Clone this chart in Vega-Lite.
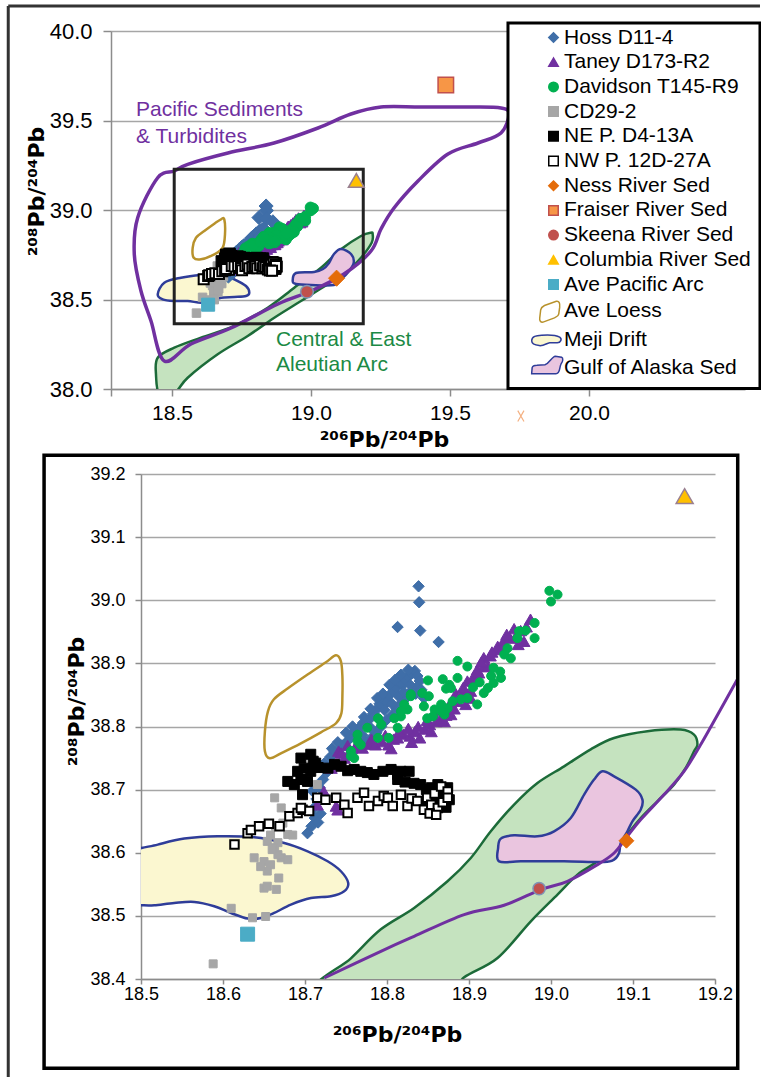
{
"$schema":"https://vega.github.io/schema/vega-lite/v6.json",
"padding":{"left":6,"top":4,"right":0,"bottom":0},
"background":"#ffffff",
"bounds":"flush",
"center":true,
"spacing":85,
"config":{"view":{"stroke":null},"font":"Liberation Sans",
"axis":{"labelFont":"Liberation Sans","labelColor":"#000","titleFont":"DejaVu Sans","titleColor":"#000","titleFontWeight":"bold","domainColor":"#8c8c8c","domainWidth":1.5,"tickColor":"#8c8c8c","tickWidth":1.5,"gridColor":"#a6a6a6","gridWidth":1.5,"labelFlush":false,"labelOverlap":false,"labelBound":false}},
"resolve":{"legend":{"shape":"independent","fill":"independent","stroke":"independent"}},
"datasets":{
"pts":[
{"s":"Hoss D11-4","x":18.8385,"y":39.0221},{"s":"Hoss D11-4","x":18.8392,"y":38.9968},{"s":"Hoss D11-4","x":18.8129,"y":38.9576},{"s":"Hoss D11-4","x":18.8405,"y":38.9519},{"s":"Hoss D11-4","x":18.8629,"y":38.9339},
{"s":"Hoss D11-4","x":18.703,"y":38.631},{"s":"Hoss D11-4","x":18.708,"y":38.642},{"s":"Hoss D11-4","x":18.712,"y":38.655},{"s":"Hoss D11-4","x":18.716,"y":38.648},{"s":"Hoss D11-4","x":18.719,"y":38.662},{"s":"Hoss D11-4","x":18.711,"y":38.671},{"s":"Hoss D11-4","x":18.714,"y":38.685},{"s":"Hoss D11-4","x":18.709,"y":38.698},{"s":"Hoss D11-4","x":18.718,"y":38.703},{"s":"Hoss D11-4","x":18.722,"y":38.716},{"s":"Hoss D11-4","x":18.727,"y":38.728},{"s":"Hoss D11-4","x":18.724,"y":38.742},{"s":"Hoss D11-4","x":18.731,"y":38.752},{"s":"Hoss D11-4","x":18.736,"y":38.760},{"s":"Hoss D11-4","x":18.742,"y":38.758},{"s":"Hoss D11-4","x":18.745,"y":38.770},{"s":"Hoss D11-4","x":18.751,"y":38.776},{"s":"Hoss D11-4","x":18.756,"y":38.783},{"s":"Hoss D11-4","x":18.760,"y":38.792},{"s":"Hoss D11-4","x":18.766,"y":38.798},{"s":"Hoss D11-4","x":18.771,"y":38.806},{"s":"Hoss D11-4","x":18.775,"y":38.801},{"s":"Hoss D11-4","x":18.779,"y":38.812},{"s":"Hoss D11-4","x":18.783,"y":38.820},{"s":"Hoss D11-4","x":18.788,"y":38.828},{"s":"Hoss D11-4","x":18.791,"y":38.836},{"s":"Hoss D11-4","x":18.796,"y":38.842},{"s":"Hoss D11-4","x":18.800,"y":38.838},{"s":"Hoss D11-4","x":18.803,"y":38.850},{"s":"Hoss D11-4","x":18.808,"y":38.856},{"s":"Hoss D11-4","x":18.811,"y":38.862},{"s":"Hoss D11-4","x":18.815,"y":38.869},{"s":"Hoss D11-4","x":18.819,"y":38.866},{"s":"Hoss D11-4","x":18.822,"y":38.874},{"s":"Hoss D11-4","x":18.826,"y":38.879},{"s":"Hoss D11-4","x":18.830,"y":38.884},{"s":"Hoss D11-4","x":18.834,"y":38.888},{"s":"Hoss D11-4","x":18.837,"y":38.880},{"s":"Hoss D11-4","x":18.840,"y":38.872},{"s":"Hoss D11-4","x":18.836,"y":38.862},{"s":"Hoss D11-4","x":18.829,"y":38.855},{"s":"Hoss D11-4","x":18.824,"y":38.846},{"s":"Hoss D11-4","x":18.818,"y":38.838},{"s":"Hoss D11-4","x":18.812,"y":38.828},{"s":"Hoss D11-4","x":18.806,"y":38.818},{"s":"Hoss D11-4","x":18.799,"y":38.810},{"s":"Hoss D11-4","x":18.793,"y":38.800},{"s":"Hoss D11-4","x":18.787,"y":38.790},{"s":"Hoss D11-4","x":18.781,"y":38.782},{"s":"Hoss D11-4","x":18.774,"y":38.775},{"s":"Hoss D11-4","x":18.768,"y":38.770},{"s":"Hoss D11-4","x":18.762,"y":38.764},{"s":"Hoss D11-4","x":18.835,"y":38.852},{"s":"Hoss D11-4","x":18.842,"y":38.858},{"s":"Hoss D11-4","x":18.845,"y":38.845},
{"s":"Hoss D11-4","x":18.772,"y":38.815},{"s":"Hoss D11-4","x":18.780,"y":38.828},{"s":"Hoss D11-4","x":18.788,"y":38.845},{"s":"Hoss D11-4","x":18.795,"y":38.852},{"s":"Hoss D11-4","x":18.803,"y":38.866},{"s":"Hoss D11-4","x":18.810,"y":38.874},{"s":"Hoss D11-4","x":18.817,"y":38.882},{"s":"Hoss D11-4","x":18.826,"y":38.890},{"s":"Hoss D11-4","x":18.758,"y":38.800},{"s":"Hoss D11-4","x":18.750,"y":38.790},{"s":"Hoss D11-4","x":18.740,"y":38.775},{"s":"Hoss D11-4","x":18.733,"y":38.765},{"s":"Hoss D11-4","x":18.790,"y":38.812},{"s":"Hoss D11-4","x":18.797,"y":38.826},{"s":"Hoss D11-4","x":18.806,"y":38.836},{"s":"Hoss D11-4","x":18.814,"y":38.848},{"s":"Hoss D11-4","x":18.820,"y":38.855},{"s":"Hoss D11-4","x":18.828,"y":38.866},{"s":"Hoss D11-4","x":18.780,"y":38.798},{"s":"Hoss D11-4","x":18.770,"y":38.786},
{"s":"Taney D173-R2","x":18.723,"y":38.697},{"s":"Taney D173-R2","x":18.715,"y":38.676},{"s":"Taney D173-R2","x":18.738,"y":38.674},{"s":"Taney D173-R2","x":18.740,"y":38.668},{"s":"Taney D173-R2","x":18.732,"y":38.734},{"s":"Taney D173-R2","x":18.741,"y":38.761},{"s":"Taney D173-R2","x":18.748,"y":38.750},{"s":"Taney D173-R2","x":18.744,"y":38.758},{"s":"Taney D173-R2","x":18.755,"y":38.762},{"s":"Taney D173-R2","x":18.762,"y":38.768},{"s":"Taney D173-R2","x":18.770,"y":38.766},{"s":"Taney D173-R2","x":18.778,"y":38.772},{"s":"Taney D173-R2","x":18.786,"y":38.771},{"s":"Taney D173-R2","x":18.794,"y":38.776},{"s":"Taney D173-R2","x":18.802,"y":38.771},{"s":"Taney D173-R2","x":18.808,"y":38.780},{"s":"Taney D173-R2","x":18.813,"y":38.782},{"s":"Taney D173-R2","x":18.820,"y":38.788},{"s":"Taney D173-R2","x":18.828,"y":38.785},{"s":"Taney D173-R2","x":18.834,"y":38.792},{"s":"Taney D173-R2","x":18.840,"y":38.782},{"s":"Taney D173-R2","x":18.846,"y":38.796},{"s":"Taney D173-R2","x":18.852,"y":38.803},{"s":"Taney D173-R2","x":18.854,"y":38.792},{"s":"Taney D173-R2","x":18.860,"y":38.808},{"s":"Taney D173-R2","x":18.866,"y":38.812},{"s":"Taney D173-R2","x":18.872,"y":38.818},{"s":"Taney D173-R2","x":18.878,"y":38.819},{"s":"Taney D173-R2","x":18.882,"y":38.828},{"s":"Taney D173-R2","x":18.886,"y":38.840},{"s":"Taney D173-R2","x":18.890,"y":38.848},{"s":"Taney D173-R2","x":18.895,"y":38.852},{"s":"Taney D173-R2","x":18.902,"y":38.845},{"s":"Taney D173-R2","x":18.902,"y":38.856},{"s":"Taney D173-R2","x":18.906,"y":38.872},{"s":"Taney D173-R2","x":18.906,"y":38.880},{"s":"Taney D173-R2","x":18.912,"y":38.885},{"s":"Taney D173-R2","x":18.918,"y":38.895},{"s":"Taney D173-R2","x":18.923,"y":38.895},{"s":"Taney D173-R2","x":18.918,"y":38.909},{"s":"Taney D173-R2","x":18.926,"y":38.912},{"s":"Taney D173-R2","x":18.935,"y":38.924},{"s":"Taney D173-R2","x":18.935,"y":38.927},{"s":"Taney D173-R2","x":18.942,"y":38.935},{"s":"Taney D173-R2","x":18.950,"y":38.940},{"s":"Taney D173-R2","x":18.958,"y":38.945},{"s":"Taney D173-R2","x":18.967,"y":38.935},{"s":"Taney D173-R2","x":18.963,"y":38.952},{"s":"Taney D173-R2","x":18.970,"y":38.958},{"s":"Taney D173-R2","x":18.975,"y":38.970},
{"s":"Taney D173-R2","x":18.752,"y":38.770},{"s":"Taney D173-R2","x":18.766,"y":38.778},{"s":"Taney D173-R2","x":18.781,"y":38.780},{"s":"Taney D173-R2","x":18.798,"y":38.786},{"s":"Taney D173-R2","x":18.815,"y":38.792},{"s":"Taney D173-R2","x":18.826,"y":38.797},{"s":"Taney D173-R2","x":18.838,"y":38.800},{"s":"Taney D173-R2","x":18.849,"y":38.810},{"s":"Taney D173-R2","x":18.858,"y":38.818},{"s":"Taney D173-R2","x":18.868,"y":38.826},{"s":"Taney D173-R2","x":18.876,"y":38.834},{"s":"Taney D173-R2","x":18.884,"y":38.852},{"s":"Taney D173-R2","x":18.893,"y":38.862},{"s":"Taney D173-R2","x":18.898,"y":38.872},{"s":"Taney D173-R2","x":18.910,"y":38.890},{"s":"Taney D173-R2","x":18.915,"y":38.902},{"s":"Taney D173-R2","x":18.928,"y":38.918},{"s":"Taney D173-R2","x":18.940,"y":38.922},{"s":"Taney D173-R2","x":18.946,"y":38.946},{"s":"Taney D173-R2","x":18.955,"y":38.955},{"s":"Taney D173-R2","x":18.960,"y":38.930},{"s":"Taney D173-R2","x":18.896,"y":38.835},{"s":"Taney D173-R2","x":18.870,"y":38.808},{"s":"Taney D173-R2","x":18.830,"y":38.775},{"s":"Taney D173-R2","x":18.805,"y":38.765},
{"s":"Davidson T145-R9","x":18.998,"y":39.015},{"s":"Davidson T145-R9","x":19.008,"y":39.009},{"s":"Davidson T145-R9","x":19.000,"y":38.998},{"s":"Davidson T145-R9","x":18.980,"y":38.964},{"s":"Davidson T145-R9","x":18.961,"y":38.951},{"s":"Davidson T145-R9","x":18.969,"y":38.952},{"s":"Davidson T145-R9","x":18.959,"y":38.940},{"s":"Davidson T145-R9","x":18.980,"y":38.940},{"s":"Davidson T145-R9","x":18.947,"y":38.924},{"s":"Davidson T145-R9","x":18.943,"y":38.914},{"s":"Davidson T145-R9","x":18.951,"y":38.908},{"s":"Davidson T145-R9","x":18.930,"y":38.893},{"s":"Davidson T145-R9","x":18.938,"y":38.887},{"s":"Davidson T145-R9","x":18.927,"y":38.880},{"s":"Davidson T145-R9","x":18.939,"y":38.877},{"s":"Davidson T145-R9","x":18.930,"y":38.869},{"s":"Davidson T145-R9","x":18.923,"y":38.861},{"s":"Davidson T145-R9","x":18.918,"y":38.853},{"s":"Davidson T145-R9","x":18.910,"y":38.835},{"s":"Davidson T145-R9","x":18.898,"y":38.845},{"s":"Davidson T145-R9","x":18.890,"y":38.843},{"s":"Davidson T145-R9","x":18.880,"y":38.840},{"s":"Davidson T145-R9","x":18.886,"y":38.904},{"s":"Davidson T145-R9","x":18.898,"y":38.895},{"s":"Davidson T145-R9","x":18.886,"y":38.877},{"s":"Davidson T145-R9","x":18.868,"y":38.875},{"s":"Davidson T145-R9","x":18.850,"y":38.873},{"s":"Davidson T145-R9","x":18.876,"y":38.866},{"s":"Davidson T145-R9","x":18.872,"y":38.860},{"s":"Davidson T145-R9","x":18.878,"y":38.861},{"s":"Davidson T145-R9","x":18.851,"y":38.848},{"s":"Davidson T145-R9","x":18.843,"y":38.853},{"s":"Davidson T145-R9","x":18.829,"y":38.848},{"s":"Davidson T145-R9","x":18.845,"y":38.832},{"s":"Davidson T145-R9","x":18.866,"y":38.835},{"s":"Davidson T145-R9","x":18.858,"y":38.827},{"s":"Davidson T145-R9","x":18.874,"y":38.829},{"s":"Davidson T145-R9","x":18.870,"y":38.819},{"s":"Davidson T145-R9","x":18.856,"y":38.816},{"s":"Davidson T145-R9","x":18.849,"y":38.813},{"s":"Davidson T145-R9","x":18.866,"y":38.824},{"s":"Davidson T145-R9","x":18.825,"y":38.827},{"s":"Davidson T145-R9","x":18.821,"y":38.835},{"s":"Davidson T145-R9","x":18.817,"y":38.816},{"s":"Davidson T145-R9","x":18.809,"y":38.813},{"s":"Davidson T145-R9","x":18.789,"y":38.813},{"s":"Davidson T145-R9","x":18.776,"y":38.798},{"s":"Davidson T145-R9","x":18.764,"y":38.787},{"s":"Davidson T145-R9","x":18.789,"y":38.782},{"s":"Davidson T145-R9","x":18.802,"y":38.782},{"s":"Davidson T145-R9","x":18.813,"y":38.798},{"s":"Davidson T145-R9","x":18.756,"y":38.761},{"s":"Davidson T145-R9","x":18.768,"y":38.771},{"s":"Davidson T145-R9","x":18.760,"y":38.750},{"s":"Davidson T145-R9","x":18.756,"y":38.753},{"s":"Davidson T145-R9","x":18.764,"y":38.777},{"s":"Davidson T145-R9","x":18.793,"y":38.803},{"s":"Davidson T145-R9","x":18.817,"y":38.824},{"s":"Davidson T145-R9","x":18.829,"y":38.851},{"s":"Davidson T145-R9","x":18.905,"y":38.862},{"s":"Davidson T145-R9","x":18.913,"y":38.870},
{"s":"CD29-2","x":18.663,"y":38.687},{"s":"CD29-2","x":18.671,"y":38.671},{"s":"CD29-2","x":18.664,"y":38.642},{"s":"CD29-2","x":18.673,"y":38.647},{"s":"CD29-2","x":18.679,"y":38.629},{"s":"CD29-2","x":18.685,"y":38.628},{"s":"CD29-2","x":18.654,"y":38.618},{"s":"CD29-2","x":18.667,"y":38.616},{"s":"CD29-2","x":18.663,"y":38.608},{"s":"CD29-2","x":18.638,"y":38.592},{"s":"CD29-2","x":18.650,"y":38.586},{"s":"CD29-2","x":18.658,"y":38.581},{"s":"CD29-2","x":18.671,"y":38.592},{"s":"CD29-2","x":18.679,"y":38.589},{"s":"CD29-2","x":18.654,"y":38.571},{"s":"CD29-2","x":18.646,"y":38.578},{"s":"CD29-2","x":18.667,"y":38.597},{"s":"CD29-2","x":18.650,"y":38.544},{"s":"CD29-2","x":18.654,"y":38.547},{"s":"CD29-2","x":18.665,"y":38.542},{"s":"CD29-2","x":18.610,"y":38.512},{"s":"CD29-2","x":18.636,"y":38.497},{"s":"CD29-2","x":18.652,"y":38.499},{"s":"CD29-2","x":18.588,"y":38.424},{"s":"CD29-2","x":18.715,"y":38.708},{"s":"CD29-2","x":18.660,"y":38.605},{"s":"CD29-2","x":18.668,"y":38.560},{"s":"CD29-2","x":18.658,"y":38.628},
{"s":"NE P. D4-13A","x":18.707,"y":38.756},{"s":"NE P. D4-13A","x":18.695,"y":38.750},{"s":"NE P. D4-13A","x":18.713,"y":38.742},{"s":"NE P. D4-13A","x":18.699,"y":38.734},{"s":"NE P. D4-13A","x":18.691,"y":38.729},{"s":"NE P. D4-13A","x":18.695,"y":38.716},{"s":"NE P. D4-13A","x":18.707,"y":38.729},{"s":"NE P. D4-13A","x":18.703,"y":38.713},{"s":"NE P. D4-13A","x":18.679,"y":38.713},{"s":"NE P. D4-13A","x":18.687,"y":38.708},{"s":"NE P. D4-13A","x":18.697,"y":38.692},{"s":"NE P. D4-13A","x":18.710,"y":38.745},{"s":"NE P. D4-13A","x":18.716,"y":38.735},{"s":"NE P. D4-13A","x":18.728,"y":38.734},{"s":"NE P. D4-13A","x":18.736,"y":38.740},{"s":"NE P. D4-13A","x":18.744,"y":38.737},{"s":"NE P. D4-13A","x":18.752,"y":38.730},{"s":"NE P. D4-13A","x":18.760,"y":38.732},{"s":"NE P. D4-13A","x":18.768,"y":38.729},{"s":"NE P. D4-13A","x":18.776,"y":38.727},{"s":"NE P. D4-13A","x":18.784,"y":38.724},{"s":"NE P. D4-13A","x":18.795,"y":38.729},{"s":"NE P. D4-13A","x":18.805,"y":38.732},{"s":"NE P. D4-13A","x":18.813,"y":38.724},{"s":"NE P. D4-13A","x":18.817,"y":38.729},{"s":"NE P. D4-13A","x":18.827,"y":38.729},{"s":"NE P. D4-13A","x":18.813,"y":38.716},{"s":"NE P. D4-13A","x":18.822,"y":38.712},{"s":"NE P. D4-13A","x":18.833,"y":38.710},{"s":"NE P. D4-13A","x":18.841,"y":38.708},{"s":"NE P. D4-13A","x":18.848,"y":38.700},{"s":"NE P. D4-13A","x":18.854,"y":38.703},{"s":"NE P. D4-13A","x":18.862,"y":38.708},{"s":"NE P. D4-13A","x":18.868,"y":38.698},{"s":"NE P. D4-13A","x":18.874,"y":38.703},{"s":"NE P. D4-13A","x":18.870,"y":38.690},{"s":"NE P. D4-13A","x":18.858,"y":38.690},{"s":"NE P. D4-13A","x":18.864,"y":38.682},{"s":"NE P. D4-13A","x":18.852,"y":38.686},{"s":"NE P. D4-13A","x":18.876,"y":38.684},{"s":"NE P. D4-13A","x":18.860,"y":38.675},{"s":"NE P. D4-13A","x":18.846,"y":38.678},{"s":"NE P. D4-13A","x":18.872,"y":38.672},{"s":"NE P. D4-13A","x":18.856,"y":38.668},
{"s":"NW P. 12D-27A","x":18.614,"y":38.613},{"s":"NW P. 12D-27A","x":18.630,"y":38.631},{"s":"NW P. 12D-27A","x":18.634,"y":38.636},{"s":"NW P. 12D-27A","x":18.644,"y":38.642},{"s":"NW P. 12D-27A","x":18.656,"y":38.646},{"s":"NW P. 12D-27A","x":18.669,"y":38.642},{"s":"NW P. 12D-27A","x":18.681,"y":38.658},{"s":"NW P. 12D-27A","x":18.691,"y":38.663},{"s":"NW P. 12D-27A","x":18.697,"y":38.668},{"s":"NW P. 12D-27A","x":18.705,"y":38.666},{"s":"NW P. 12D-27A","x":18.695,"y":38.671},{"s":"NW P. 12D-27A","x":18.715,"y":38.687},{"s":"NW P. 12D-27A","x":18.725,"y":38.684},{"s":"NW P. 12D-27A","x":18.738,"y":38.687},{"s":"NW P. 12D-27A","x":18.748,"y":38.676},{"s":"NW P. 12D-27A","x":18.752,"y":38.663},{"s":"NW P. 12D-27A","x":18.764,"y":38.687},{"s":"NW P. 12D-27A","x":18.772,"y":38.695},{"s":"NW P. 12D-27A","x":18.778,"y":38.674},{"s":"NW P. 12D-27A","x":18.789,"y":38.682},{"s":"NW P. 12D-27A","x":18.796,"y":38.690},{"s":"NW P. 12D-27A","x":18.801,"y":38.687},{"s":"NW P. 12D-27A","x":18.807,"y":38.674},{"s":"NW P. 12D-27A","x":18.817,"y":38.692},{"s":"NW P. 12D-27A","x":18.825,"y":38.674},{"s":"NW P. 12D-27A","x":18.830,"y":38.686},{"s":"NW P. 12D-27A","x":18.837,"y":38.682},{"s":"NW P. 12D-27A","x":18.845,"y":38.668},{"s":"NW P. 12D-27A","x":18.849,"y":38.687},{"s":"NW P. 12D-27A","x":18.854,"y":38.676},{"s":"NW P. 12D-27A","x":18.858,"y":38.694},{"s":"NW P. 12D-27A","x":18.862,"y":38.671},{"s":"NW P. 12D-27A","x":18.866,"y":38.705},{"s":"NW P. 12D-27A","x":18.868,"y":38.680},{"s":"NW P. 12D-27A","x":18.874,"y":38.697},{"s":"NW P. 12D-27A","x":18.874,"y":38.687},{"s":"NW P. 12D-27A","x":18.852,"y":38.662},{"s":"NW P. 12D-27A","x":18.860,"y":38.660},
{"s":"Ness River Sed","x":19.092,"y":38.619},
{"s":"Fraiser River Sed","x":19.485,"y":39.698},
{"s":"Skeena River Sed","x":18.9855,"y":38.5432},
{"s":"Columbia River Sed","x":19.163,"y":39.165},
{"s":"Ave Pacific Arc","x":18.630,"y":38.471}
],
"polyT":[
{"n":"aleut","i":0,"x":18.4486,"y":38.1749},{"n":"aleut","i":1,"x":18.5083,"y":38.2307},{"n":"aleut","i":2,"x":18.6043,"y":38.2866},{"n":"aleut","i":3,"x":18.7241,"y":38.3520},{"n":"aleut","i":4,"x":18.8442,"y":38.4542},{"n":"aleut","i":5,"x":18.9399,"y":38.5659},{"n":"aleut","i":6,"x":19.0360,"y":38.6777},{"n":"aleut","i":7,"x":19.1079,"y":38.7804},{"n":"aleut","i":8,"x":19.1799,"y":38.8547},{"n":"aleut","i":9,"x":19.2158,"y":38.8732},{"n":"aleut","i":10,"x":19.2219,"y":38.8642},{"n":"aleut","i":11,"x":19.2183,"y":38.8173},{"n":"aleut","i":12,"x":19.1799,"y":38.7335},{"n":"aleut","i":13,"x":19.1320,"y":38.6592},{"n":"aleut","i":14,"x":19.0601,"y":38.5849},{"n":"aleut","i":15,"x":18.9640,"y":38.4916},{"n":"aleut","i":16,"x":18.8680,"y":38.3983},{"n":"aleut","i":17,"x":18.7723,"y":38.2961},{"n":"aleut","i":18,"x":18.6644,"y":38.1939},{"n":"aleut","i":19,"x":18.5565,"y":38.0631},{"n":"aleut","i":20,"x":18.51,"y":37.98},{"n":"aleut","i":21,"x":18.455,"y":37.97},{"n":"aleut","i":22,"x":18.4424,"y":38.0821},
{"n":"meji","i":0,"x":18.4486,"y":38.5291},{"n":"meji","i":1,"x":18.4723,"y":38.5939},{"n":"meji","i":2,"x":18.5324,"y":38.6218},{"n":"meji","i":3,"x":18.6043,"y":38.6369},{"n":"meji","i":4,"x":18.6763,"y":38.6408},{"n":"meji","i":5,"x":18.7241,"y":38.6128},{"n":"meji","i":6,"x":18.7662,"y":38.5754},{"n":"meji","i":7,"x":18.7781,"y":38.5380},{"n":"meji","i":8,"x":18.7662,"y":38.5196},{"n":"meji","i":9,"x":18.7241,"y":38.5140},{"n":"meji","i":10,"x":18.6763,"y":38.5101},{"n":"meji","i":11,"x":18.6403,"y":38.4916},{"n":"meji","i":12,"x":18.6043,"y":38.4821},{"n":"meji","i":13,"x":18.5565,"y":38.4916},{"n":"meji","i":14,"x":18.5083,"y":38.4916},{"n":"meji","i":15,"x":18.4665,"y":38.5011},
{"n":"loess","i":0,"x":18.6881,"y":38.9480},{"n":"loess","i":1,"x":18.6906,"y":38.8642},{"n":"loess","i":2,"x":18.6824,"y":38.7894},{"n":"loess","i":3,"x":18.6522,"y":38.7525},{"n":"loess","i":4,"x":18.6043,"y":38.7246},{"n":"loess","i":5,"x":18.5781,"y":38.7335},{"n":"loess","i":6,"x":18.5745,"y":38.7894},{"n":"loess","i":7,"x":18.5863,"y":38.8453},{"n":"loess","i":8,"x":18.6162,"y":38.8827},{"n":"loess","i":9,"x":18.6522,"y":38.9235},{"n":"loess","i":10,"x":18.6763,"y":38.9480},
{"n":"gulf","i":0,"x":18.9342,"y":38.6034},{"n":"gulf","i":1,"x":18.9460,"y":38.6480},{"n":"gulf","i":2,"x":19.0108,"y":38.6536},{"n":"gulf","i":3,"x":19.0432,"y":38.6704},{"n":"gulf","i":4,"x":19.0647,"y":38.7039},{"n":"gulf","i":5,"x":19.0827,"y":38.7542},{"n":"gulf","i":6,"x":19.1079,"y":38.7821},{"n":"gulf","i":7,"x":19.1439,"y":38.7542},{"n":"gulf","i":8,"x":19.1536,"y":38.7039},{"n":"gulf","i":9,"x":19.1320,"y":38.6497},{"n":"gulf","i":10,"x":19.1079,"y":38.6128},{"n":"gulf","i":11,"x":19.0827,"y":38.5810},{"n":"gulf","i":12,"x":19.0000,"y":38.5810},{"n":"gulf","i":13,"x":18.9460,"y":38.5866},
{"n":"pac","i":0,"x":18.4723,"y":38.1564},{"n":"pac","i":1,"x":18.4245,"y":38.3799},{"n":"pac","i":2,"x":18.3885,"y":38.5475},{"n":"pac","i":3,"x":18.3644,"y":38.7525},{"n":"pac","i":4,"x":18.3766,"y":38.9570},{"n":"pac","i":5,"x":18.4486,"y":39.1804},{"n":"pac","i":6,"x":18.5083,"y":39.2179},{"n":"pac","i":7,"x":18.5565,"y":39.2553},{"n":"pac","i":8,"x":18.7014,"y":39.3184},{"n":"pac","i":9,"x":18.8669,"y":39.3743},{"n":"pac","i":10,"x":19.0252,"y":39.4581},{"n":"pac","i":11,"x":19.1439,"y":39.5363},{"n":"pac","i":12,"x":19.2518,"y":39.5754},{"n":"pac","i":13,"x":19.3957,"y":39.5754},{"n":"pac","i":14,"x":19.5755,"y":39.5754},{"n":"pac","i":15,"x":19.6835,"y":39.5698},{"n":"pac","i":16,"x":19.7122,"y":39.5363},{"n":"pac","i":17,"x":19.6835,"y":39.4302},{"n":"pac","i":18,"x":19.6007,"y":39.3743},{"n":"pac","i":19,"x":19.4928,"y":39.3128},{"n":"pac","i":20,"x":19.3849,"y":39.1620},{"n":"pac","i":21,"x":19.2986,"y":39.0112},{"n":"pac","i":22,"x":19.2518,"y":38.8939},{"n":"pac","i":23,"x":19.2158,"y":38.7709},{"n":"pac","i":24,"x":19.1187,"y":38.6425},{"n":"pac","i":25,"x":19.0000,"y":38.5475},{"n":"pac","i":26,"x":18.8813,"y":38.4749},{"n":"pac","i":27,"x":18.7122,"y":38.3408},{"n":"pac","i":28,"x":18.5683,"y":38.2514}
],
"polyB":[
{"n":"aleut","i":0,"x":18.715,"y":38.385},{"n":"aleut","i":1,"x":18.7560,"y":38.4328},{"n":"aleut","i":2,"x":18.7925,"y":38.4787},{"n":"aleut","i":3,"x":18.8331,"y":38.5125},{"n":"aleut","i":4,"x":18.8738,"y":38.5548},{"n":"aleut","i":5,"x":18.9022,"y":38.5917},{"n":"aleut","i":6,"x":18.9266,"y":38.6340},{"n":"aleut","i":7,"x":18.9550,"y":38.6763},{"n":"aleut","i":8,"x":18.9835,"y":38.7105},{"n":"aleut","i":9,"x":19.0160,"y":38.7369},{"n":"aleut","i":10,"x":19.0485,"y":38.7639},{"n":"aleut","i":11,"x":19.0769,"y":38.7818},{"n":"aleut","i":12,"x":19.1176,"y":38.7924},{"n":"aleut","i":13,"x":19.1582,"y":38.7951},{"n":"aleut","i":14,"x":19.1744,"y":38.7872},{"n":"aleut","i":15,"x":19.1786,"y":38.7713},{"n":"aleut","i":16,"x":19.1744,"y":38.7607},{"n":"aleut","i":17,"x":19.1643,"y":38.7343},{"n":"aleut","i":18,"x":19.1500,"y":38.7079},{"n":"aleut","i":19,"x":19.1298,"y":38.6815},{"n":"aleut","i":20,"x":19.1095,"y":38.6550},{"n":"aleut","i":21,"x":19.0851,"y":38.6181},{"n":"aleut","i":22,"x":19.0567,"y":38.5864},{"n":"aleut","i":23,"x":19.0323,"y":38.5654},{"n":"aleut","i":24,"x":19.0079,"y":38.5337},{"n":"aleut","i":25,"x":18.9754,"y":38.4914},{"n":"aleut","i":26,"x":18.9348,"y":38.4333},{"n":"aleut","i":27,"x":18.8941,"y":38.4027},{"n":"aleut","i":28,"x":18.875,"y":38.375},{"n":"aleut","i":29,"x":18.80,"y":38.36},
{"n":"meji","i":0,"x":18.48,"y":38.598},{"n":"meji","i":1,"x":18.5204,"y":38.6129},{"n":"meji","i":2,"x":18.5528,"y":38.6224},{"n":"meji","i":3,"x":18.5935,"y":38.6261},{"n":"meji","i":4,"x":18.6381,"y":38.6245},{"n":"meji","i":5,"x":18.6747,"y":38.6154},{"n":"meji","i":6,"x":18.7032,"y":38.6023},{"n":"meji","i":7,"x":18.7276,"y":38.5865},{"n":"meji","i":8,"x":18.7438,"y":38.5707},{"n":"meji","i":9,"x":18.7527,"y":38.5521},{"n":"meji","i":10,"x":18.7478,"y":38.5390},{"n":"meji","i":11,"x":18.7316,"y":38.5311},{"n":"meji","i":12,"x":18.7072,"y":38.5283},{"n":"meji","i":13,"x":18.6828,"y":38.5179},{"n":"meji","i":14,"x":18.6625,"y":38.5046},{"n":"meji","i":15,"x":18.6463,"y":38.4966},{"n":"meji","i":16,"x":18.6301,"y":38.4957},{"n":"meji","i":17,"x":18.6097,"y":38.5046},{"n":"meji","i":18,"x":18.5893,"y":38.5152},{"n":"meji","i":19,"x":18.5650,"y":38.5220},{"n":"meji","i":20,"x":18.5406,"y":38.5204},{"n":"meji","i":21,"x":18.5162,"y":38.5168},{"n":"meji","i":22,"x":18.5021,"y":38.5168},{"n":"meji","i":23,"x":18.47,"y":38.52},{"n":"meji","i":24,"x":18.46,"y":38.56},
{"n":"loess","i":0,"x":18.7377,"y":38.9128},{"n":"loess","i":1,"x":18.7438,"y":38.9033},{"n":"loess","i":2,"x":18.7456,"y":38.8795},{"n":"loess","i":3,"x":18.7456,"y":38.8478},{"n":"loess","i":4,"x":18.7444,"y":38.8209},{"n":"loess","i":5,"x":18.7377,"y":38.8050},{"n":"loess","i":6,"x":18.7194,"y":38.7908},{"n":"loess","i":7,"x":18.6950,"y":38.7733},{"n":"loess","i":8,"x":18.6731,"y":38.7591},{"n":"loess","i":9,"x":18.6572,"y":38.7496},{"n":"loess","i":10,"x":18.6511,"y":38.7607},{"n":"loess","i":11,"x":18.6511,"y":38.7924},{"n":"loess","i":12,"x":18.6548,"y":38.8241},{"n":"loess","i":13,"x":18.6621,"y":38.8431},{"n":"loess","i":14,"x":18.6792,"y":38.8605},{"n":"loess","i":15,"x":18.7036,"y":38.8827},{"n":"loess","i":16,"x":18.7255,"y":38.9017},
{"n":"gulf","i":0,"x":18.9388,"y":38.6224},{"n":"gulf","i":1,"x":18.9550,"y":38.6276},{"n":"gulf","i":2,"x":18.9835,"y":38.6261},{"n":"gulf","i":3,"x":19.0038,"y":38.6340},{"n":"gulf","i":4,"x":19.0241,"y":38.6550},{"n":"gulf","i":5,"x":19.0404,"y":38.6921},{"n":"gulf","i":6,"x":19.0525,"y":38.7159},{"n":"gulf","i":7,"x":19.0628,"y":38.7290},{"n":"gulf","i":8,"x":19.0769,"y":38.7211},{"n":"gulf","i":9,"x":19.1034,"y":38.7000},{"n":"gulf","i":10,"x":19.1115,"y":38.6842},{"n":"gulf","i":11,"x":19.1095,"y":38.6684},{"n":"gulf","i":12,"x":19.0993,"y":38.6498},{"n":"gulf","i":13,"x":19.0932,"y":38.6340},{"n":"gulf","i":14,"x":19.0851,"y":38.6154},{"n":"gulf","i":15,"x":19.0830,"y":38.5996},{"n":"gulf","i":16,"x":19.0769,"y":38.5891},{"n":"gulf","i":17,"x":19.0647,"y":38.5853},{"n":"gulf","i":18,"x":19.0160,"y":38.5864},{"n":"gulf","i":19,"x":18.9632,"y":38.5864},{"n":"gulf","i":20,"x":18.9367,"y":38.5864},{"n":"gulf","i":21,"x":18.9355,"y":38.6075},
{"n":"pac","i":0,"x":18.7235,"y":38.4016},{"n":"pac","i":1,"x":18.7925,"y":38.4439},{"n":"pac","i":2,"x":18.8331,"y":38.4676},{"n":"pac","i":3,"x":18.8941,"y":38.5020},{"n":"pac","i":4,"x":18.9428,"y":38.5168},{"n":"pac","i":5,"x":18.9876,"y":38.5416},{"n":"pac","i":6,"x":19.0201,"y":38.5548},{"n":"pac","i":7,"x":19.0567,"y":38.5812},{"n":"pac","i":8,"x":19.0770,"y":38.5996},{"n":"pac","i":9,"x":19.0932,"y":38.6261},{"n":"pac","i":10,"x":19.1095,"y":38.6525},{"n":"pac","i":11,"x":19.1379,"y":38.6921},{"n":"pac","i":12,"x":19.1622,"y":38.7290},{"n":"pac","i":13,"x":19.1826,"y":38.7713},{"n":"pac","i":14,"x":19.227,"y":38.874}
]
},
"vconcat":[
{
"width":634,"height":358,
"encoding":{
"x":{"field":"x","type":"quantitative","scale":{"domain":[18.2806,20.5612],"nice":false,"zero":false},
"axis":{"values":[18.2806,18.5,19,19.5,20],"labelExpr":"datum.value < 18.4 ? '' : format(datum.value, '.1f')","grid":false,"tickSize":7,"labelFontSize":21,"labelPadding":6,"title":"²⁰⁶Pb/²⁰⁴Pb","titleFontSize":22,"titleX":273,"titleY":57,"titleAlign":"center","titleBaseline":"alphabetic"}},
"y":{"field":"y","type":"quantitative","scale":{"domain":[38,40],"nice":false,"zero":false},
"axis":{"values":[38,38.5,39,39.5,40],"format":".1f","tickSize":8,"labelFontSize":22,"labelPadding":11,"title":"²⁰⁸Pb/²⁰⁴Pb","titleFontSize":22,"titleX":-68,"titleY":160,"titleAngle":-90,"titleAlign":"center","titleBaseline":"alphabetic"}}
},
"layer":[
{"data":{"name":"polyT"},"transform":[{"filter":"datum.n==='aleut'"}],"mark":{"type":"line","interpolate":"cardinal-closed","fill":"#C5E3BF","stroke":"#1C6B39","strokeWidth":2.5,"clip":true},"encoding":{"order":{"field":"i","type":"quantitative"}}},
{"data":{"name":"polyT"},"transform":[{"filter":"datum.n==='meji'"}],"mark":{"type":"line","interpolate":"cardinal-closed","fill":"#FBF7D0","stroke":"#2F3D99","strokeWidth":2.5,"clip":true},"encoding":{"order":{"field":"i","type":"quantitative"}}},
{"data":{"name":"polyT"},"transform":[{"filter":"datum.n==='loess'"}],"mark":{"type":"line","interpolate":"cardinal-closed","stroke":"#B8922C","strokeWidth":2.5,"clip":true},"encoding":{"order":{"field":"i","type":"quantitative"}}},
{"data":{"name":"polyT"},"transform":[{"filter":"datum.n==='gulf'"}],"mark":{"type":"line","interpolate":"cardinal-closed","fill":"#EAC5DF","stroke":"#2F3D99","strokeWidth":2.5,"clip":true},"encoding":{"order":{"field":"i","type":"quantitative"}}},
{"data":{"name":"polyT"},"transform":[{"filter":"datum.n==='pac'"}],"mark":{"type":"line","interpolate":"cardinal-closed","stroke":"#7030A0","strokeWidth":3.5,"clip":true},"encoding":{"order":{"field":"i","type":"quantitative"}}},
{"data":{"values":[{"x":18.508,"x2":19.188,"y":39.2274,"y2":38.3648}]},"mark":{"type":"rect","fill":"transparent","stroke":"#222222","strokeWidth":3},"encoding":{"x2":{"field":"x2"},"y2":{"field":"y2"}}},
{"data":{"name":"pts"},"transform":[{"filter":"datum.s==='Hoss D11-4'"}],"mark":{"type":"point","shape":"diamond","filled":true,"fill":"#3F6EA8","stroke":"#3F6EA8","strokeWidth":1,"size":200,"opacity":1}},
{"data":{"name":"pts"},"transform":[{"filter":"datum.s==='Taney D173-R2'"}],"mark":{"type":"point","shape":"triangle-up","filled":true,"fill":"#7030A0","stroke":"#7030A0","strokeWidth":1,"size":150,"opacity":1}},
{"data":{"name":"pts"},"transform":[{"filter":"datum.s==='Davidson T145-R9'"}],"mark":{"type":"point","shape":"circle","filled":true,"fill":"#00B050","stroke":"#00B050","strokeWidth":1,"size":110,"opacity":1}},
{"data":{"name":"pts"},"transform":[{"filter":"datum.s==='CD29-2'"}],"mark":{"type":"point","shape":"square","filled":true,"fill":"#A6A6A6","stroke":"#A6A6A6","strokeWidth":1,"size":72,"opacity":1}},
{"data":{"name":"pts"},"transform":[{"filter":"datum.s==='NE P. D4-13A'"}],"mark":{"type":"point","shape":"square","filled":true,"fill":"#000000","stroke":"#000000","strokeWidth":1,"size":130,"opacity":1}},
{"data":{"name":"pts"},"transform":[{"filter":"datum.s==='NW P. 12D-27A'"}],"mark":{"type":"point","shape":"square","filled":true,"fill":"#FFFFFF","stroke":"#000000","strokeWidth":2,"size":100,"opacity":1}},
{"data":{"name":"pts"},"transform":[{"filter":"datum.s==='Ness River Sed'"}],"mark":{"type":"point","shape":"diamond","filled":true,"fill":"#E46C0A","stroke":"#E46C0A","strokeWidth":1,"size":260,"opacity":1}},
{"data":{"name":"pts"},"transform":[{"filter":"datum.s==='Fraiser River Sed'"}],"mark":{"type":"point","shape":"square","filled":true,"fill":"#F79646","stroke":"#C0504D","strokeWidth":1.5,"size":240,"opacity":1}},
{"data":{"name":"pts"},"transform":[{"filter":"datum.s==='Skeena River Sed'"}],"mark":{"type":"point","shape":"circle","filled":true,"fill":"#C0504D","stroke":"#7F93B5","strokeWidth":1.5,"size":160,"opacity":1}},
{"data":{"name":"pts"},"transform":[{"filter":"datum.s==='Columbia River Sed'"}],"mark":{"type":"point","shape":"triangle-up","filled":true,"fill":"#FFC000","stroke":"#9A8090","strokeWidth":1.5,"size":250,"opacity":1}},
{"data":{"name":"pts"},"transform":[{"filter":"datum.s==='Ave Pacific Arc'"}],"mark":{"type":"point","shape":"square","filled":true,"fill":"#4BACC6","stroke":"#4BACC6","strokeWidth":1,"size":170,"opacity":1}},
{"data":{"values":[{"x":19.755,"y":37.849}]},"mark":{"type":"point","shape":"M-0.8,-1.4L0.8,1.4M0.8,-1.4L-0.8,1.4","filled":false,"stroke":"#F4B183","strokeWidth":1.2,"size":60,"opacity":1,"clip":false}},
{"data":{"values":[{"x":18.3705,"y":39.5251,"label":"Pacific Sediments"},{"x":18.3705,"y":39.3743,"label":"& Turbidites"}]},"mark":{"type":"text","align":"left","baseline":"alphabetic","fontSize":21,"font":"Liberation Sans","color":"#7030A0"},"encoding":{"text":{"field":"label"}}},
{"data":{"values":[{"x":18.8741,"y":38.2402,"label":"Central & East"},{"x":18.8741,"y":38.1006,"label":"Aleutian Arc"}]},"mark":{"type":"text","align":"left","baseline":"alphabetic","fontSize":21,"font":"Liberation Sans","color":"#1B8A45"},"encoding":{"text":{"field":"label"}}},
{"data":{"values":[{"x":19.7086,"x2":20.6151,"y":40.0447,"y2":38.0028}]},"mark":{"type":"rect","fill":"#ffffff","stroke":"#000000","strokeWidth":3,"clip":false},"encoding":{"x2":{"field":"x2"},"y2":{"field":"y2"}}},
{"data":{"name":"pts"},"transform":[{"filter":"false"}],"mark":{"type":"point","filled":true,"opacity":1},
"encoding":{
"shape":{"field":"s","type":"nominal","scale":{"domain":["Hoss D11-4","Taney D173-R2","Davidson T145-R9","CD29-2","NE P. D4-13A","NW P. 12D-27A","Ness River Sed","Fraiser River Sed","Skeena River Sed","Columbia River Sed","Ave Pacific Arc","Ave Loess","Meji Drift","Gulf of Alaska Sed"],"range":["diamond","triangle-up","circle","square","square","square","diamond","square","circle","triangle-up","square","M0.6,-2.1C1.2,-2.2 1.4,-1.7 1.3,-0.8L1.1,0.6C1,1.1 0.6,1.2 0.2,1.4L-2.2,2.3C-2.7,2.4 -3,2 -2.9,1.4L-2.7,-0.3C-2.6,-0.8 -2.3,-1 -1.9,-1.2Z","M-4.6,0.2C-4.6,-0.8 -3.6,-0.9 -2.5,-1C-1,-1.1 0.6,-1 1.3,-0.6C1.9,-0.2 1.5,0.6 0.8,0.6L-0.8,0.6C-1.5,0.7 -2,1.3 -3,1.2C-4,1.1 -4.6,0.9 -4.6,0.2Z","M-4.6,1.2L-4.5,0C-4.4,-0.4 -4,-0.5 -3.5,-0.5L-1.8,-0.6C-0.8,-0.9 -0.4,-2.3 0.4,-2.4L1.7,-2.2C2.1,-2 2,-1.3 1.6,-0.8C1.2,-0.2 1.5,1.3 0.5,1.3L-4.6,1.3Z"]},
"legend":{"orient":"none","legendX":397,"legendY":-12,"title":null,"padding":8,"rowPadding":2.7,"symbolSize":90,"symbolStrokeWidth":1.5,"symbolOffset":27,"labelOffset":0,"labelFontSize":21,"labelFont":"Liberation Sans","labelColor":"#000000","labelLimit":300}},
"fill":{"field":"s","type":"nominal","scale":{"domain":["Hoss D11-4","Taney D173-R2","Davidson T145-R9","CD29-2","NE P. D4-13A","NW P. 12D-27A","Ness River Sed","Fraiser River Sed","Skeena River Sed","Columbia River Sed","Ave Pacific Arc","Ave Loess","Meji Drift","Gulf of Alaska Sed"],"range":["#3F6EA8","#7030A0","#00B050","#A6A6A6","#000000","#FFFFFF","#E46C0A","#F79646","#C0504D","#FFC000","#4BACC6","#FFFFFF","#FBF7D0","#EAC5DF"]},
"legend":{"orient":"none","legendX":397,"legendY":-12,"title":null,"padding":8,"rowPadding":2.7,"symbolSize":90,"symbolStrokeWidth":1.5,"symbolOffset":27,"labelOffset":0,"labelFontSize":21,"labelFont":"Liberation Sans","labelColor":"#000000","labelLimit":300}},
"stroke":{"field":"s","type":"nominal","scale":{"domain":["Hoss D11-4","Taney D173-R2","Davidson T145-R9","CD29-2","NE P. D4-13A","NW P. 12D-27A","Ness River Sed","Fraiser River Sed","Skeena River Sed","Columbia River Sed","Ave Pacific Arc","Ave Loess","Meji Drift","Gulf of Alaska Sed"],"range":["#3F6EA8","#7030A0","#00B050","#A6A6A6","#000000","#000000","#E46C0A","#C0504D","#C0504D","#FFC000","#4BACC6","#B8922C","#2F3D99","#2F3D99"]},
"legend":{"orient":"none","legendX":397,"legendY":-12,"title":null,"padding":8,"rowPadding":2.7,"symbolSize":90,"symbolStrokeWidth":1.5,"symbolOffset":27,"labelOffset":0,"labelFontSize":21,"labelFont":"Liberation Sans","labelColor":"#000000","labelLimit":300}}
}},
{"data":{"values":[{"x":17.911,"x2":17.911,"y":40.1397,"y2":34.1564},{"x":17.911,"x2":20.6151,"y":40.1397,"y2":40.1397}]},"mark":{"type":"rule","stroke":"#333333","strokeWidth":3,"clip":false},"encoding":{"x2":{"field":"x2"},"y2":{"field":"y2"}}}
]
},
{
"width":574,"height":505,
"encoding":{
"x":{"field":"x","type":"quantitative","scale":{"domain":[18.5,19.2],"nice":false,"zero":false},
"axis":{"values":[18.5,18.6,18.7,18.8,18.9,19.0,19.1,19.2],"format":".1f","grid":false,"tickSize":5,"labelFontSize":18,"labelPadding":1,"title":"²⁰⁶Pb/²⁰⁴Pb","titleFontSize":22,"titleX":256,"titleY":62,"titleAlign":"center","titleBaseline":"alphabetic"}},
"y":{"field":"y","type":"quantitative","scale":{"domain":[38.4,39.2],"nice":false,"zero":false},
"axis":{"values":[38.4,38.5,38.6,38.7,38.8,38.9,39.0,39.1,39.2],"format":".1f","tickSize":6,"labelFontSize":18,"labelPadding":10,"title":"²⁰⁸Pb/²⁰⁴Pb","titleFontSize":22,"titleX":-58,"titleY":227,"titleAngle":-90,"titleAlign":"center","titleBaseline":"alphabetic"}}
},
"layer":[
{"data":{"name":"polyB"},"transform":[{"filter":"datum.n==='aleut'"}],"mark":{"type":"line","interpolate":"cardinal-closed","fill":"#C5E3BF","stroke":"#1C6B39","strokeWidth":2.5,"clip":true},"encoding":{"order":{"field":"i","type":"quantitative"}}},
{"data":{"name":"polyB"},"transform":[{"filter":"datum.n==='meji'"}],"mark":{"type":"line","interpolate":"cardinal-closed","fill":"#FBF7D0","stroke":"#2F3D99","strokeWidth":2.5,"clip":true},"encoding":{"order":{"field":"i","type":"quantitative"}}},
{"data":{"name":"polyB"},"transform":[{"filter":"datum.n==='loess'"}],"mark":{"type":"line","interpolate":"cardinal-closed","stroke":"#B8922C","strokeWidth":2.5,"clip":true},"encoding":{"order":{"field":"i","type":"quantitative"}}},
{"data":{"name":"polyB"},"transform":[{"filter":"datum.n==='gulf'"}],"mark":{"type":"line","interpolate":"cardinal-closed","fill":"#EAC5DF","stroke":"#2F3D99","strokeWidth":2.5,"clip":true},"encoding":{"order":{"field":"i","type":"quantitative"}}},
{"data":{"name":"polyB"},"transform":[{"filter":"datum.n==='pac'"}],"mark":{"type":"line","interpolate":"cardinal","stroke":"#7030A0","strokeWidth":3,"clip":false},"encoding":{"order":{"field":"i","type":"quantitative"}}},
{"data":{"name":"pts"},"transform":[{"filter":"datum.s==='Hoss D11-4'"}],"mark":{"type":"point","shape":"diamond","filled":true,"fill":"#3F6EA8","stroke":"#3F6EA8","strokeWidth":1,"size":130,"opacity":1}},
{"data":{"name":"pts"},"transform":[{"filter":"datum.s==='Taney D173-R2'"}],"mark":{"type":"point","shape":"triangle-up","filled":true,"fill":"#7030A0","stroke":"#7030A0","strokeWidth":1,"size":144,"opacity":1}},
{"data":{"name":"pts"},"transform":[{"filter":"datum.s==='Davidson T145-R9'"}],"mark":{"type":"point","shape":"circle","filled":true,"fill":"#00B050","stroke":"#00B050","strokeWidth":1,"size":81,"opacity":1}},
{"data":{"name":"pts"},"transform":[{"filter":"datum.s==='CD29-2'"}],"mark":{"type":"point","shape":"square","filled":true,"fill":"#A6A6A6","stroke":"#A6A6A6","strokeWidth":1,"size":64,"opacity":1}},
{"data":{"name":"pts"},"transform":[{"filter":"datum.s==='NE P. D4-13A'"}],"mark":{"type":"point","shape":"square","filled":true,"fill":"#000000","stroke":"#000000","strokeWidth":1,"size":100,"opacity":1}},
{"data":{"name":"pts"},"transform":[{"filter":"datum.s==='NW P. 12D-27A'"}],"mark":{"type":"point","shape":"square","filled":true,"fill":"#FFFFFF","stroke":"#000000","strokeWidth":2,"size":72,"opacity":1}},
{"data":{"name":"pts"},"transform":[{"filter":"datum.s==='Ness River Sed'"}],"mark":{"type":"point","shape":"diamond","filled":true,"fill":"#E46C0A","stroke":"#E46C0A","strokeWidth":1,"size":220,"opacity":1}},
{"data":{"name":"pts"},"transform":[{"filter":"datum.s==='Skeena River Sed'"}],"mark":{"type":"point","shape":"circle","filled":true,"fill":"#C0504D","stroke":"#7F93B5","strokeWidth":1.5,"size":150,"opacity":1}},
{"data":{"name":"pts"},"transform":[{"filter":"datum.s==='Columbia River Sed'"}],"mark":{"type":"point","shape":"triangle-up","filled":true,"fill":"#FFC000","stroke":"#9A8090","strokeWidth":1.5,"size":289,"opacity":1}},
{"data":{"name":"pts"},"transform":[{"filter":"datum.s==='Ave Pacific Arc'"}],"mark":{"type":"point","shape":"square","filled":true,"fill":"#4BACC6","stroke":"#4BACC6","strokeWidth":1,"size":196,"opacity":1}},
{"data":{"values":[{"x":18.3818,"x2":19.2277,"y":39.2296,"y2":38.2585}]},"mark":{"type":"rect","fill":"transparent","stroke":"#000000","strokeWidth":3.5,"clip":false},"encoding":{"x2":{"field":"x2"},"y2":{"field":"y2"}}}
]
}
]
}
